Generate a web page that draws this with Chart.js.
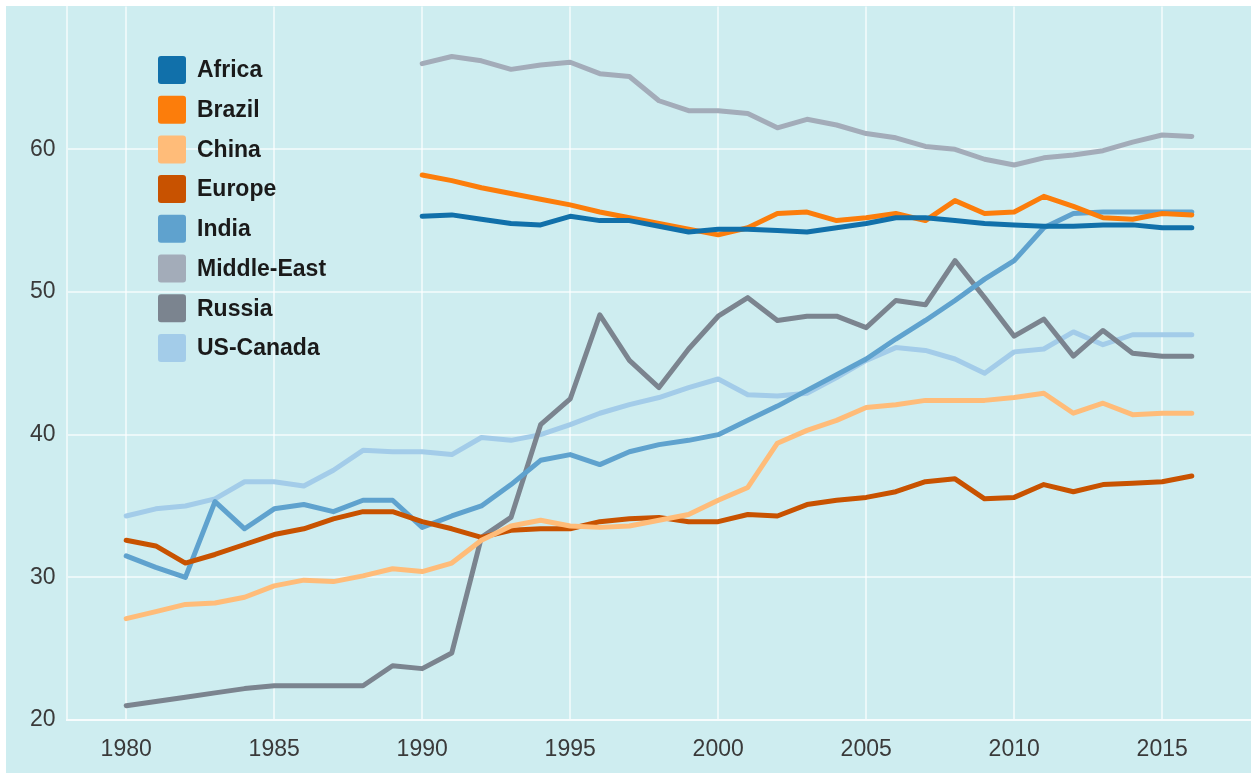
<!DOCTYPE html>
<html>
<head>
<meta charset="utf-8">
<script src="https://cdn.jsdelivr.net/npm/chart.js@4/dist/chart.umd.min.js"></script>
<style>
  html, body { margin: 0; padding: 0; background: #ffffff; }
  #wrap { position: absolute; left: 6px; top: 6px; width: 1245px; height: 767px; background: #ceedf0; }
</style>
</head>
<body>
<div id="wrap"><canvas id="myChart" width="1245" height="767"></canvas></div>
<script>
const years = [1980, 1981, 1982, 1983, 1984, 1985, 1986, 1987, 1988, 1989,
  1990, 1991, 1992, 1993, 1994, 1995, 1996, 1997, 1998, 1999,
  2000, 2001, 2002, 2003, 2004, 2005, 2006, 2007, 2008, 2009,
  2010, 2011, 2012, 2013, 2014, 2015, 2016];

const tickYears = [1980, 1985, 1990, 1995, 2000, 2005, 2010, 2015];
const tickValues = [20, 30, 40, 50, 60];

const names = ['Africa', 'Brazil', 'China', 'Europe', 'India', 'Middle-East', 'Russia', 'US-Canada'];
const colors = ['#1170aa', '#fc7d0b', '#ffbc79', '#c85200', '#5fa2ce', '#a3acb9', '#7b848f', '#a3cce9'];

// values from 1980 to 2016, null where there is no data
const africa = [null, null, null, null, null, null, null, null, null, null,
  55.3, 55.4, 55.1, 54.8, 54.7, 55.3, 55.0, 55.0, 54.6, 54.2,
  54.4, 54.4, 54.3, 54.2, 54.5, 54.8, 55.2, 55.2, 55.0, 54.8,
  54.7, 54.6, 54.6, 54.7, 54.7, 54.5, 54.5];
const brazil = [null, null, null, null, null, null, null, null, null, null,
  58.2, 57.8, 57.3, 56.9, 56.5, 56.1, 55.6, 55.2, 54.8, 54.4,
  54.0, 54.5, 55.5, 55.6, 55.0, 55.2, 55.5, 55.0, 56.4, 55.5,
  55.6, 56.7, 56.0, 55.2, 55.1, 55.5, 55.4];
const china = [27.1, 27.6, 28.1, 28.2, 28.6, 29.4, 29.8, 29.7, 30.1, 30.6,
  30.4, 31.0, 32.6, 33.6, 34.0, 33.6, 33.5, 33.6, 34.0, 34.4,
  35.4, 36.3, 39.4, 40.3, 41.0, 41.9, 42.1, 42.4, 42.4, 42.4,
  42.6, 42.9, 41.5, 42.2, 41.4, 41.5, 41.5];
const europe = [32.6, 32.2, 31.0, 31.6, 32.3, 33.0, 33.4, 34.1, 34.6, 34.6,
  33.9, 33.4, 32.8, 33.3, 33.4, 33.4, 33.9, 34.1, 34.2, 33.9,
  33.9, 34.4, 34.3, 35.1, 35.4, 35.6, 36.0, 36.7, 36.9, 35.5,
  35.6, 36.5, 36.0, 36.5, 36.6, 36.7, 37.1];
const india = [31.5, 30.7, 30.0, 35.3, 33.4, 34.8, 35.1, 34.6, 35.4, 35.4,
  33.5, 34.3, 35.0, 36.5, 38.2, 38.6, 37.9, 38.8, 39.3, 39.6,
  40.0, 41.0, 42.0, 43.1, 44.2, 45.3, 46.7, 48.0, 49.4, 50.9,
  52.2, 54.5, 55.5, 55.6, 55.6, 55.6, 55.6];
const middleEast = [null, null, null, null, null, null, null, null, null, null,
  66.0, 66.5, 66.2, 65.6, 65.9, 66.1, 65.3, 65.1, 63.4, 62.7,
  62.7, 62.5, 61.5, 62.1, 61.7, 61.1, 60.8, 60.2, 60.0, 59.3,
  58.9, 59.4, 59.6, 59.9, 60.5, 61.0, 60.9];
const russia = [21.0, 21.3, 21.6, 21.9, 22.2, 22.4, 22.4, 22.4, 22.4, 23.8,
  23.6, 24.7, 32.8, 34.2, 40.7, 42.5, 48.4, 45.2, 43.3, 46.0,
  48.3, 49.6, 48.0, 48.3, 48.3, 47.5, 49.4, 49.1, 52.2, 49.6,
  46.9, 48.1, 45.5, 47.3, 45.7, 45.5, 45.5];
const usCanada = [34.3, 34.8, 35.0, 35.5, 36.7, 36.7, 36.4, 37.5, 38.9, 38.8,
  38.8, 38.6, 39.8, 39.6, 40.0, 40.7, 41.5, 42.1, 42.6, 43.3,
  43.9, 42.8, 42.7, 42.9, 44.0, 45.2, 46.1, 45.9, 45.3, 44.3,
  45.8, 46.0, 47.2, 46.3, 47.0, 47.0, 47.0];

const series = [africa, brazil, china, europe, india, middleEast, russia, usCanada];

const datasets = series.map((vals, i) => ({
  label: names[i],
  data: vals.map((v, j) => ({ x: years[j], y: v })),
  borderColor: colors[i],
  backgroundColor: colors[i],
  borderWidth: 5,
  borderJoinStyle: 'round',
  borderCapStyle: 'round',
  pointRadius: 0,
  tension: 0,
  spanGaps: false
}));

// legend drawn inside the plot, top left
const innerLegend = {
  id: 'innerLegend',
  afterDraw(chart) {
    const ctx = chart.ctx;
    ctx.save();
    ctx.font = 'bold 23px "Liberation Sans", Arial, sans-serif';
    ctx.textBaseline = 'middle';
    chart.data.datasets.forEach((ds, i) => {
      const y = 64 + i * 39.7;
      ctx.fillStyle = ds.borderColor;
      ctx.beginPath();
      ctx.roundRect(152, y - 14, 28, 28, 3);
      ctx.fill();
      ctx.fillStyle = '#1a1a1a';
      ctx.fillText(ds.label, 191, y + 1);
    });
    ctx.restore();
  }
};

const gridColor = 'rgba(255,255,255,0.6)';
const tickFont = { family: '"Liberation Sans", Arial, sans-serif', size: 23 };

new Chart(document.getElementById('myChart'), {
  type: 'line',
  data: { datasets: datasets },
  options: {
    responsive: false,
    animation: false,
    layout: { padding: { left: 24, top: 0, right: 0, bottom: 0 } },
    plugins: {
      legend: { display: false },
      tooltip: { enabled: false }
    },
    scales: {
      x: {
        type: 'linear',
        min: 1978,
        max: 2018,
        afterBuildTicks: (scale) => { scale.ticks = tickYears.map(v => ({ value: v })); },
        afterFit: (scale) => { scale.height = 53; },
        grid: { color: gridColor, lineWidth: 2, drawTicks: false },
        border: { display: true, color: gridColor, width: 2 },
        ticks: {
          color: '#3a3a3a',
          font: tickFont,
          padding: 16,
          maxRotation: 0,
          callback: (v) => String(v)
        }
      },
      y: {
        min: 20,
        max: 70,
        afterBuildTicks: (scale) => { scale.ticks = tickValues.map(v => ({ value: v })); },
        afterFit: (scale) => { scale.width = 37; },
        grid: { color: gridColor, lineWidth: 2, drawTicks: false },
        border: { display: true, color: gridColor, width: 2 },
        ticks: {
          color: '#3a3a3a',
          font: { family: tickFont.family, size: 23, lineHeight: 0.05 },
          crossAlign: 'far',
          padding: 0
        }
      }
    }
  },
  plugins: [innerLegend]
});
</script>
</body>
</html>
